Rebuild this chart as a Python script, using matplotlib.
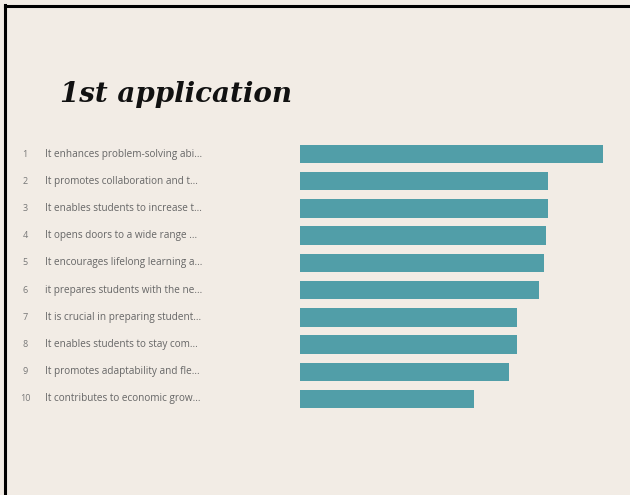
import numpy as np
import matplotlib.pyplot as plt
import matplotlib.transforms as mtransforms
from matplotlib.lines import Line2D

# data
ranks = ['1', '2', '3', '4', '5', '6', '7', '8', '9', '10']
labels = [
    'It enhances problem-solving abi...',
    'It promotes collaboration and t...',
    'It enables students to increase t...',
    'It opens doors to a wide range ...',
    'It encourages lifelong learning a...',
    'it prepares students with the ne...',
    'It is crucial in preparing student...',
    'It enables students to stay com...',
    'It promotes adaptability and fle...',
    'It contributes to economic grow...',
]
scores = [100, 81.8, 81.8, 81.2, 80.5, 79.1, 71.7, 71.7, 69.1, 57.6]

W, H = 630, 495
bg = '#f2ece5'
bar_color = '#519ea8'

fig = plt.figure(figsize=(W / 100, H / 100), dpi=100)
fig.patch.set_facecolor(bg)

# bar area in pixels: x 300..602.7, rows centred 154..399
x0, x1 = 300, 602.7
y_top, y_bot = 140.4, 412.6
ax = fig.add_axes([x0 / W, 1 - y_bot / H, (x1 - x0) / W, (y_bot - y_top) / H])
ax.set_facecolor(bg)

ypos = np.arange(len(scores))
ax.barh(ypos, scores, height=0.68, color=bar_color)
ax.set_xlim(0, max(scores))
ax.set_ylim(len(scores) - 0.5, -0.5)
ax.axis('off')

# row labels to the left of the bars
trans = mtransforms.blended_transform_factory(fig.transFigure, ax.transData)
for y, rk, lab in zip(ypos, ranks, labels):
    ax.text(25 / W, y, rk, transform=trans, ha='center', va='center',
            fontsize=6.5, color='#777777', family='Open Sans')
    ax.text(45 / W, y, lab, transform=trans, ha='left', va='center',
            fontsize=7.2, color='#666666', family='Open Sans')

# title
fig.text(60 / W, 1 - 94 / H, '1st application', ha='left', va='center',
         fontsize=20, fontweight='bold', fontstyle='italic',
         family='DejaVu Serif', color='#111111')

# black frame on top and left edges
fig.add_artist(Line2D([5 / W, 1], [1 - 5.5 / H, 1 - 5.5 / H],
                      transform=fig.transFigure, color='black', lw=2.2))
fig.add_artist(Line2D([5 / W, 5 / W], [0, 1 - 4.5 / H],
                      transform=fig.transFigure, color='black', lw=2.2))

fig.savefig('out.png', dpi=100, facecolor=bg)
